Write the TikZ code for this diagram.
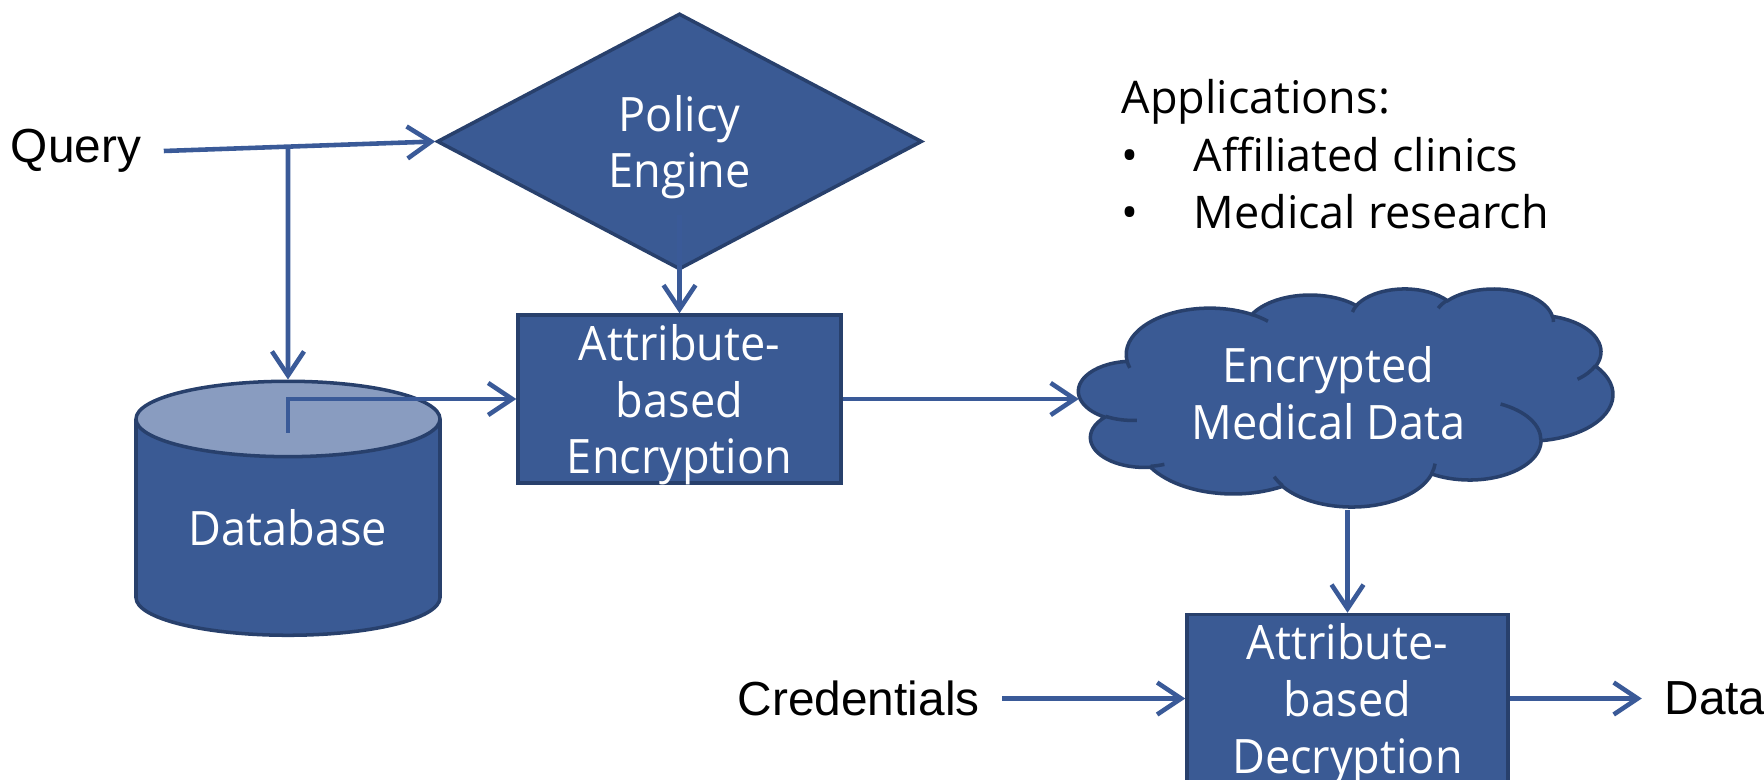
\documentclass[tikz,border=0pt]{standalone}
\usepackage{fontspec}
\setmainfont{Liberation Sans}
\newfontfamily\boxfont[FakeStretch=0.95]{Open Sans}
\newfontfamily\notefont{Open Sans}
\usetikzlibrary{arrows.meta,positioning,shapes.geometric,calc,backgrounds}
\definecolor{boxblue}{RGB}{58,90,148}
\definecolor{edgeblue}{RGB}{40,64,108}
\definecolor{dbtop}{RGB}{137,156,192}
\definecolor{linkblue}{RGB}{58,90,152}
% one elliptic arc of an office shape outline (radii, start angle, sweep)
\newcommand\pptarc[4]{arc[x radius=#1, y radius=#2, start angle={atan2(#1*sin(#3),#2*cos(#3))},
  delta angle={mod(atan2(#1*sin(#3+#4),#2*cos(#3+#4))-atan2(#1*sin(#3),#2*cos(#3))+720,360)}]}

\begin{document}
\begin{tikzpicture}[node distance=1cm, every node/.style={font=\fontsize{13.6}{16}\selectfont}]
\tikzset{box/.style={draw=edgeblue, line width=1pt, fill=boxblue, text=white, align=center, inner sep=0pt, font=\boxfont\fontsize{13.5}{16.2}\selectfont}}
\tikzset{arrow/.style={-{Straight Barb[length=2.4mm,width=3.2mm]}, line width=1.3pt, draw=linkblue}}
\tikzset{lbl/.style={inner xsep=2.2mm, inner ysep=0pt}}
\useasboundingbox (0,0) rectangle (17.64,7.79);
\node[box, minimum width=3.23cm, minimum height=1.68cm] (abe) at (6.795,3.80) {Attribute-\\based\\\smash{Encryption}};
\node[box, diamond, aspect=1.89, minimum width=4.85cm, minimum height=2.56cm, above=0.42cm of abe] (policy) {Policy\\\smash{Engine}};
\node[box, fill=none, cylinder, shape border rotate=90, aspect=0.38, minimum width=3.04cm, minimum height=2.54cm,
  cylinder uses custom fill, cylinder body fill=boxblue, cylinder end fill=dbtop] (db) at (2.88,2.51) {Database};
\node[box, draw=none, fill=none, minimum width=5.34cm, minimum height=2.18cm, right=2.36cm of abe] (cloud)
  {\hspace*{-3.8mm}Encrypted\\\hspace*{-3.8mm}Medical Data\rule[-3.2pt]{0pt}{0pt}};
\node[box, minimum width=3.21cm, minimum height=1.68cm, below=1.03cm of cloud] (abd) {Attribute-\\based\\\smash{Decryption}};
\node[lbl] (query) at (0.76,6.28) {Query};
\node[lbl, left=1.83cm of abd] (cred) {Credentials};
\node[lbl, right=1.32cm of abd] (data) {Data};
\node[anchor=north west, inner sep=0pt, align=left, font=\notefont\fontsize{12.8}{16.3}\selectfont] (apps) at (11.21,7.00)
  {Applications:\\\makebox[7.2mm][l]{•}Affiliated clinics\\\makebox[7.2mm][l]{•}Medical research};

% cloud outline behind its text
\begin{scope}[on background layer, shift={(cloud.north west)}, xscale=0.123611, yscale=-0.050463]
\path[draw=edgeblue, line width=1pt, fill=boxblue] (3.900,14.370)
  \pptarc{6.753}{9.190}{-190.4875}{123.7805} \pptarc{5.333}{7.267}{-144.1024}{89.9452}
  \pptarc{4.365}{5.945}{-145.8079}{99.7230} \pptarc{4.857}{6.595}{-130.9861}{117.2417}
  \pptarc{5.333}{7.273}{-78.7089}{109.0269} \pptarc{6.775}{9.220}{-46.2673}{130.2690}
  \pptarc{5.785}{7.867}{0.6250}{114.0333} \pptarc{6.752}{9.215}{22.4516}{115.1726}
  \pptarc{7.720}{10.543}{66.2426}{75.7110} \pptarc{4.360}{5.918}{-274.9421}{146.7356}
  \pptarc{4.345}{5.945}{-246.8285}{152.5189} -- cycle;
\path[draw=edgeblue, line width=1pt]
  (4.693,26.177) \pptarc{4.345}{5.945}{86.742}{26.430}
  (6.928,34.899) \pptarc{4.360}{5.918}{73.610}{11.447}
  (16.478,39.090) \pptarc{6.752}{9.215}{137.624}{14.081}
  (28.827,34.751) \pptarc{6.752}{9.215}{6.453}{15.998}
  (34.129,22.954) \pptarc{5.785}{7.867}{-70.292}{70.917}
  (41.798,15.354) \pptarc{5.333}{7.273}{30.318}{27.752}
  (38.324,5.426) \pptarc{4.857}{6.595}{-13.744}{14.859}
  (29.078,3.952) \pptarc{4.857}{6.595}{-149.181}{18.195}
  (22.141,4.720) \pptarc{4.365}{5.945}{-163.494}{17.686}
  (14.000,5.192) \pptarc{6.753}{9.190}{-66.707}{12.319}
  (4.127,15.789) \pptarc{6.753}{9.190}{157.654}{11.858};
\end{scope}

\coordinate (qsplit) at (intersection of query.east--policy.west and db.north--db.south);
\draw[arrow] (query.east) -- (policy.west);
\draw[arrow] (qsplit) -- (db.north);
\draw[arrow] ([yshift=5.6mm]policy.south) -- (abe.north);
\draw[arrow] ($(db.north)+(0,-0.53)$) |- (abe.west);
\draw[arrow] (abe.east) -- (cloud.west);
\draw[arrow] (cloud.south) -- (abd.north);
\draw[arrow] (cred.east) -- (abd.west);
\draw[arrow] (abd.east) -- (data.west);
\end{tikzpicture}
\end{document}
